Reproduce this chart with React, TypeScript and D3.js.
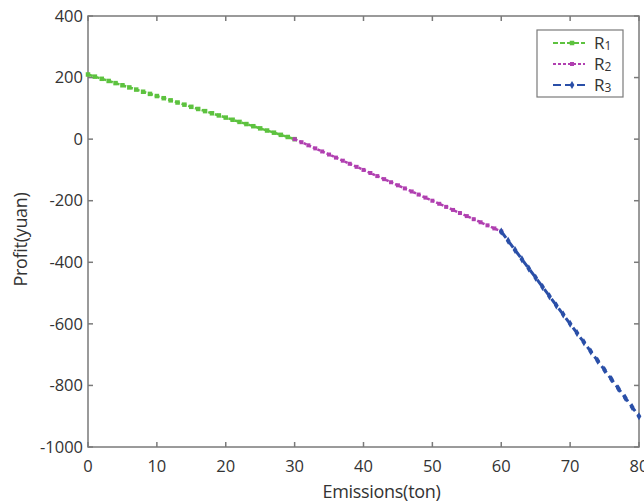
import React from "react";
import * as d3 from "d3";

const WIDTH = 644;
const HEIGHT = 503;
const MARGIN = { top: 16, right: 5, bottom: 56, left: 88 };

// emissions (ton) and profit (yuan) for each regime
const R1_X = d3.range(0, 31);
const R1_Y = [210, 203, 196, 189, 182, 175, 168, 161, 154, 147, 140, 133, 126, 119, 112, 105, 98, 91, 84, 77, 70, 63, 56, 49, 42, 35, 28, 21, 14, 7, 0];
const R2_X = d3.range(30, 61);
const R2_Y = [0, -10, -20, -30, -40, -50, -60, -70, -80, -90, -100, -110, -120, -130, -140, -150, -160, -170, -180, -190, -200, -210, -220, -230, -240, -250, -260, -270, -280, -290, -300];
const R3_X = d3.range(60, 81);
const R3_Y = [-300, -330, -360, -390, -420, -450, -480, -510, -540, -570, -600, -630, -660, -690, -720, -750, -780, -810, -840, -870, -900];

const X_TICKS = [0, 10, 20, 30, 40, 50, 60, 70, 80];
const Y_TICKS = [400, 200, 0, -200, -400, -600, -800, -1000];

const SERIES = [
  { name: "R", sub: "1", xs: R1_X, ys: R1_Y, color: "#5dc23f", dash: "5,2", marker: "square", size: 4.5, width: 2.5 },
  { name: "R", sub: "2", xs: R2_X, ys: R2_Y, color: "#b03fb0", dash: "3,2", marker: "square", size: 4, width: 2.5 },
  { name: "R", sub: "3", xs: R3_X, ys: R3_Y, color: "#2a4fa8", dash: "8,4", marker: "diamond", size: 8, width: 3 },
];

const FONT = "'Open Sans', 'DejaVu Sans', sans-serif";
const AXIS = "#7a7a7a";
const TEXT = "#333";

function Marker({ type, x, y, size, color }: any) {
  if (type === "diamond") {
    const s = size / 2;
    return <path d={`M${x},${y - s}L${x + s * 0.6},${y}L${x},${y + s}L${x - s * 0.6},${y}Z`} fill={color} />;
  }
  return <rect x={x - size / 2} y={y - size / 2} width={size} height={size} fill={color} />;
}

export default function App() {
  const iw = WIDTH - MARGIN.left - MARGIN.right;
  const ih = HEIGHT - MARGIN.top - MARGIN.bottom;
  const x = d3.scaleLinear().domain([0, 80]).range([MARGIN.left, MARGIN.left + iw]);
  const y = d3.scaleLinear().domain([-1000, 400]).range([MARGIN.top + ih, MARGIN.top]);
  const line = d3.line<[number, number]>().x((d) => x(d[0])).y((d) => y(d[1]));

  const x0 = x(0), x1 = x(80), y0 = y(-1000), y1 = y(400);

  return (
    <svg width={WIDTH} height={HEIGHT} style={{ position: "absolute", left: 0, top: 0, background: "#fff" }} fontFamily={FONT}>
      {/* frame */}
      <rect x={x0} y={y1} width={x1 - x0} height={y0 - y1} fill="none" stroke={AXIS} strokeWidth={1.5} />
      {X_TICKS.map((t) => (
        <g key={"x" + t}>
          <line x1={x(t)} x2={x(t)} y1={y0} y2={y0 - 5} stroke={AXIS} strokeWidth={1.5} />
          <line x1={x(t)} x2={x(t)} y1={y1} y2={y1 + 5} stroke={AXIS} strokeWidth={1.5} />
          <text x={x(t)} y={y0 + 25} textAnchor="middle" fontSize={16.5} fill={TEXT}>{t}</text>
        </g>
      ))}
      {Y_TICKS.map((t) => (
        <g key={"y" + t}>
          <line x1={x0} x2={x0 + 5} y1={y(t)} y2={y(t)} stroke={AXIS} strokeWidth={1.5} />
          <line x1={x1} x2={x1 - 5} y1={y(t)} y2={y(t)} stroke={AXIS} strokeWidth={1.5} />
          <text x={x0 - 5} y={y(t)} dy="0.35em" textAnchor="end" fontSize={16.5} fill={TEXT}>{t}</text>
        </g>
      ))}

      {/* series */}
      {SERIES.map((s) => {
        const pts = s.xs.map((v, i) => [v, s.ys[i]] as [number, number]);
        return (
          <g key={s.sub}>
            <path d={line(pts) || ""} fill="none" stroke={s.color} strokeWidth={s.width} strokeDasharray={s.dash} />
            {pts.map((p, i) => (
              <Marker key={i} type={s.marker} x={x(p[0])} y={y(p[1])} size={s.size} color={s.color} />
            ))}
          </g>
        );
      })}

      {/* legend */}
      <rect x={537} y={30} width={86} height={67} fill="#fff" stroke={AXIS} strokeWidth={1.2} />
      {SERIES.map((s, i) => {
        const ly = 43 + i * 21;
        return (
          <g key={"l" + s.sub}>
            <line x1={553} x2={585} y1={ly} y2={ly} stroke={s.color} strokeWidth={2} strokeDasharray={s.dash} />
            <Marker type={s.marker} x={572} y={ly} size={s.size} color={s.color} />
            <text x={594} y={ly} dy="0.36em" fontSize={17} fill={TEXT}>
              {s.name}
              <tspan fontSize={12} dy="1">{s.sub}</tspan>
            </text>
          </g>
        );
      })}

      {/* axis labels */}
      <text x={(x0 + x1) / 2 + 18} y={HEIGHT - 5} textAnchor="middle" fontSize={18} fill={TEXT} letterSpacing={-0.3}>
        Emissions(ton)
      </text>
      <text transform={`translate(27,${(y0 + y1) / 2 + 8}) rotate(-90)`} textAnchor="middle" fontSize={18} fill={TEXT} letterSpacing={-0.3}>
        Profit(yuan)
      </text>
    </svg>
  );
}
